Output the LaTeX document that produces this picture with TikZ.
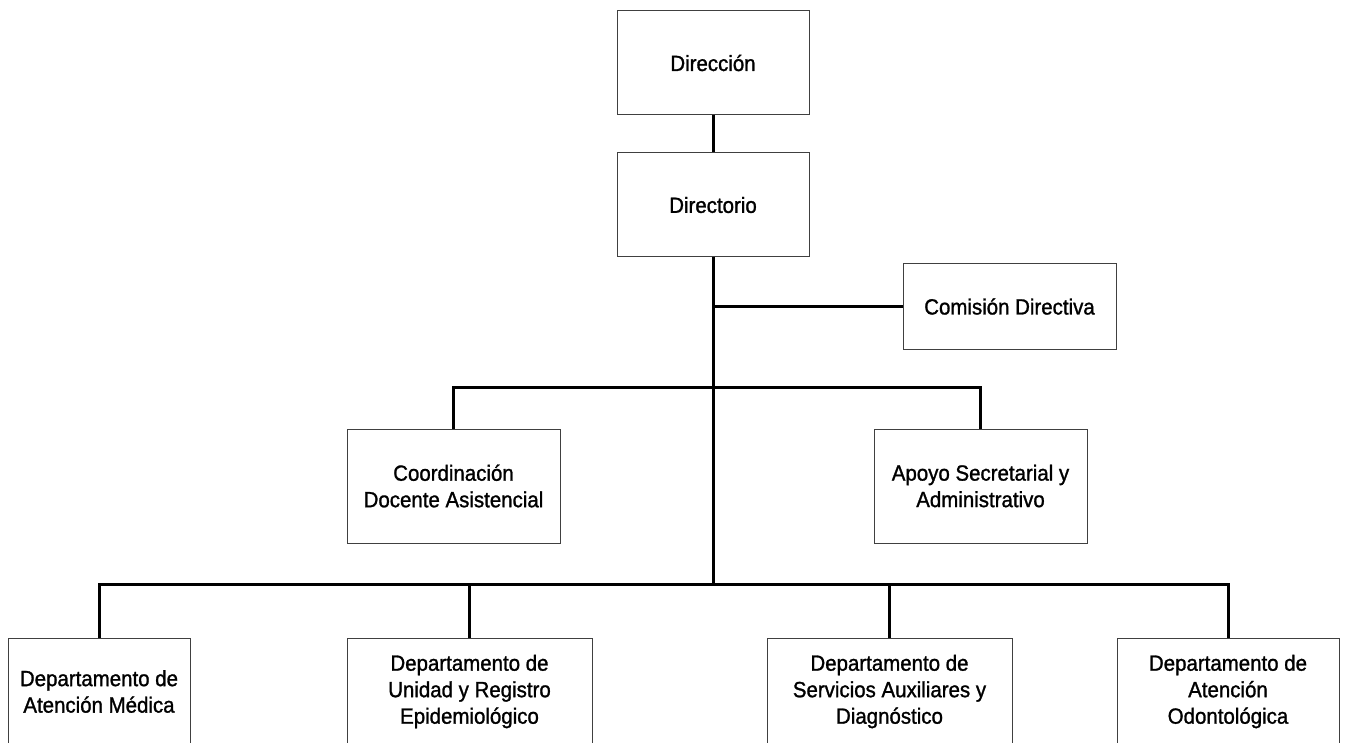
\documentclass[tikz,border=0pt]{standalone}
\usepackage{fontspec}
\setmainfont{Liberation Sans}[FakeStretch=0.93,FakeBold=1.2]
\begin{document}
\begin{tikzpicture}[x=1pt,y=-1pt,
  box/.style={draw=black!75,line width=1pt,fill=white,align=center,inner sep=0pt,
    font=\fontsize{22}{26.5}\selectfont,text=black},
  conn/.style={line width=3pt,black,line join=miter}]
\useasboundingbox[fill=white] (0,0) rectangle (1346,743);
\node[box,minimum width=192,minimum height=104] (dir) at (713,63) {Dirección};
\node[box,minimum width=192,minimum height=104] (dtor) at (713,205) {Directorio};
\node[box,minimum width=213,minimum height=86] (com) at (1009.5,306.5) {Comisión Directiva};
\node[box,minimum width=213,minimum height=114] (coord) at (453.5,486) {Coordinación\\Docente Asistencial};
\node[box,minimum width=213,minimum height=114] (apoyo) at (980.5,486) {Apoyo Secretarial y\\Administrativo};
\node[box,minimum width=182,minimum height=107] (med) at (99,691.5) {Departamento de\\Atención Médica};
\node[box,minimum width=245,minimum height=107] (uni) at (469.5,691.5) {Departamento de\\Unidad y Registro\\Epidemiológico};
\node[box,minimum width=245,minimum height=107] (serv) at (889.5,691.5) {Departamento de\\Servicios Auxiliares y\\Diagnóstico};
\node[box,minimum width=222,minimum height=107] (odo) at (1228,691.5) {Departamento de\\Atención\\Odontológica};
\coordinate (t1) at (dtor.south |- com.west);
\coordinate (t2) at (713,387);
\coordinate (t3) at (713,584);
\draw[conn] (dir.south) -- (dtor.north);
\draw[conn] (dtor.south) -- (t3);
\draw[conn] (t1) -- (com.west);
\draw[conn] (coord.north) |- (t2) -| (apoyo.north);
\draw[conn] (med.north) |- (t3) -| (odo.north);
\draw[conn] (uni.north) -- (uni.north |- t3);
\draw[conn] (serv.north) -- (serv.north |- t3);
\end{tikzpicture}
\end{document}
